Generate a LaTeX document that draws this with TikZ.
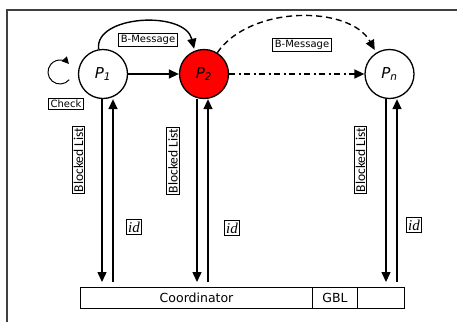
\documentclass[tikz,border=0pt]{standalone}
\usepackage{fontspec}
\setmainfont{DejaVu Sans}
\newfontfamily\calfont{Carlito}
\newfontfamily\timesfont{Liberation Serif}
\usetikzlibrary{arrows.meta}
\begin{document}
\begin{tikzpicture}[x=1pt,y=-1pt,
  proc/.style={circle,draw,line width=1.3pt,minimum size=49pt,inner sep=0pt,font=\itshape\fontsize{15}{16}\selectfont},
  lbl/.style={draw,line width=1pt,inner sep=2pt,fill=white,font=\fontsize{10}{12}\selectfont},
  bl/.style={draw,line width=1pt,inner sep=1.5pt,rotate=90,font=\calfont\fontsize{13.5}{15}\selectfont},
  idl/.style={draw,line width=1pt,inner sep=2pt,font=\timesfont\itshape\fontsize{15}{16}\selectfont},
  arr/.style={line width=1.4pt,-{Triangle[length=10pt,width=9pt]}},
  cell/.style={draw,line width=1.1pt,minimum height=21pt,inner sep=0pt,anchor=north west,font=\fontsize{12.5}{14}\selectfont}]
\useasboundingbox (0,0) rectangle (457,322);
% frame
\draw[line width=1.4pt,black!75] (7,322) -- (7,10) -- (457,10);
% processes
\node[proc] (p1) at (103,74) {P\textsubscript{1}};
\node[proc,fill=red] (p2) at (204,74) {P\textsubscript{2}};
\node[proc] (pn) at (389.5,74) {P\textsubscript{n}};
% coordinator
\node[cell,minimum width=232pt] (co) at (80,287) {Coordinator};
\node[cell,minimum width=45pt] (gbl) at (312,287) {GBL};
\node[cell,minimum width=47pt] (ex) at (357,287) {};
% connectors between processes
\draw[arr] (p1) -- (p2);
\draw[arr,dash pattern=on 6pt off 3.5pt on 2pt off 3.5pt] (p2) -- (pn);
\draw[arr,shorten >=2pt] (p1.100) .. controls (94,15) and (185,10) .. (p2.112);
\draw[arr,dash pattern=on 6pt off 4pt,shorten >=3pt] (p2.58) .. controls (250,5) and (350,5) .. (pn.122);
% self loop
\coordinate (sl) at (60,72);
\draw[line width=1pt,-{Triangle[length=7pt,width=7pt]}] ([shift={(-40:12pt)}]sl) arc[start angle=-40,end angle=-318,radius=12pt];
% labels
\node[lbl] (bm1) at (148,40) {B-Message};
\node[lbl] (bm2) at (302,45) {B-Message};
\node[lbl] (chk) at (66,104) {Check};
% vertical arrows
\coordinate (d1) at (102,282); \coordinate (u1) at (113,282);
\coordinate (d2) at (197,282); \coordinate (u2) at (208,282);
\coordinate (d3) at (386,282); \coordinate (u3) at (397,282);
\draw[arr] (p1.south -| d1) -- (d1);
\draw[arr] (u1) -- (p1.south -| u1);
\draw[arr] (p2.south -| d2) -- (d2);
\draw[arr] (u2) -- (p2.south -| u2);
\draw[arr] (pn.south -| d3) -- (d3);
\draw[arr] (u3) -- (pn.south -| u3);
\node[bl] (bl1) at (78.5,160) {Blocked List};
\node[bl] (bl2) at (173,161) {Blocked List};
\node[bl] (bl3) at (360.5,160) {Blocked List};
\node[idl] (id1) at (134,227) {id};
\node[idl] (id2) at (232,228) {id};
\node[idl] (id3) at (414,225) {id};
\end{tikzpicture}
\end{document}
